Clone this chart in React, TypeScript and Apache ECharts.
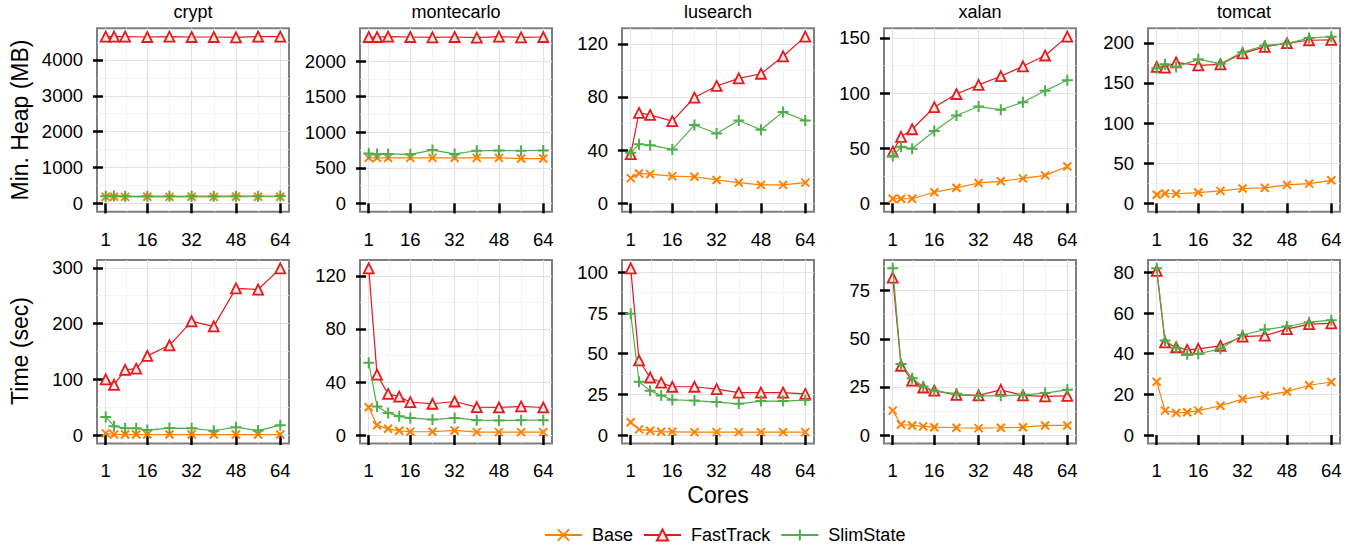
import React, { useEffect, useRef } from "react";
import * as echarts from "echarts";

const benchmarks = ["crypt", "montecarlo", "lusearch", "xalan", "tomcat"];
const methods = ["Base", "FastTrack", "SlimState"];
const coresHeap = [1, 4, 8, 16, 24, 32, 40, 48, 56, 64];
const coresTime = [1, 4, 8, 12, 16, 24, 32, 40, 48, 56, 64];
const xTicks = [1, 16, 32, 48, 64];

// Min. Heap (MB)
const cryptHeapBase = [180, 185, 180, 185, 180, 185, 180, 185, 185, 185];
const cryptHeapFastTrack = [4650, 4650, 4650, 4640, 4650, 4640, 4640, 4630, 4650, 4650];
const cryptHeapSlimState = [195, 205, 195, 200, 195, 200, 200, 200, 200, 205];
const montecarloHeapBase = [640, 640, 640, 640, 640, 640, 640, 640, 630, 630];
const montecarloHeapFastTrack = [2340, 2340, 2345, 2340, 2335, 2340, 2330, 2345, 2335, 2340];
const montecarloHeapSlimState = [700, 695, 695, 690, 750, 695, 740, 745, 740, 745];
const lusearchHeapBase = [19, 22.5, 22, 20.5, 20, 17.6, 15.6, 13.9, 13.9, 15.6];
const lusearchHeapFastTrack = [37, 68, 66.5, 61.8, 79.6, 88.3, 94, 97.5, 110.6, 125.4];
const lusearchHeapSlimState = [38, 44.5, 43.8, 40.6, 58.9, 52.5, 62.3, 55.4, 68.8, 62.3];
const xalanHeapBase = [4.2, 4.2, 4.2, 10.1, 14.1, 18.5, 20, 22.7, 25.4, 33.4];
const xalanHeapFastTrack = [46.9, 60.3, 67.2, 87.2, 99.2, 107.5, 115.3, 124.3, 134.1, 151.2];
const xalanHeapSlimState = [43, 51.3, 49.6, 65.7, 79.7, 87.8, 84.9, 91.7, 102.2, 111.7];
const tomcatHeapBase = [10.7, 12.3, 12, 13.5, 15.6, 18.5, 19.3, 23, 24.6, 28.7];
const tomcatHeapFastTrack = [170, 169, 175.7, 172, 173.2, 186.8, 195, 199.5, 203.2, 203.6];
const tomcatHeapSlimState = [168.3, 173.2, 170, 179.4, 174, 188.4, 196.6, 199, 206, 207.7];

// Time (sec)
const cryptTimeBase = [3, 1, 1, 1, 1, 1, 1, 1, 1, 1, 1];
const cryptTimeFastTrack = [100, 90, 117, 119, 142, 161, 204, 195, 263, 261, 299];
const cryptTimeSlimState = [32.6, 16, 12, 12, 9, 12.5, 12, 7.7, 14.2, 8, 17.8];
const montecarloTimeBase = [21, 7.4, 4.7, 3.2, 2.5, 2.5, 3.5, 2.2, 2.2, 2.2, 2.2];
const montecarloTimeFastTrack = [125.7, 45.6, 31, 29, 24.8, 23.6, 25.3, 21.1, 20.8, 21.6, 20.8];
const montecarloTimeSlimState = [54.6, 21.6, 16.7, 14.1, 12.9, 11.7, 12.9, 11.2, 11, 11.2, 11.2];
const lusearchTimeBase = [7.9, 3.5, 2.7, 2, 2, 1.8, 1.8, 1.8, 1.8, 1.8, 1.8];
const lusearchTimeFastTrack = [102.5, 45.9, 35.4, 32.2, 29.7, 29.7, 28.2, 26.1, 26.1, 26.1, 25.3];
const lusearchTimeSlimState = [74.6, 32.8, 27.3, 24.3, 21.7, 21.2, 20.3, 19.2, 20.9, 20.9, 21.5];
const xalanTimeBase = [12.7, 5.5, 5, 4.5, 4.1, 3.8, 3.6, 3.8, 4.1, 5, 5];
const xalanTimeFastTrack = [81.8, 36, 28.3, 24.7, 23.1, 20.9, 20.6, 23.5, 20.6, 20.1, 20.4];
const xalanTimeSlimState = [86.6, 36.9, 29.5, 25.2, 23, 21.4, 20.4, 20.4, 20.9, 21.8, 23.5];
const tomcatTimeBase = [26.2, 12, 10.9, 11.2, 12, 14.4, 17.7, 19.4, 21.4, 24.5, 26.1];
const tomcatTimeFastTrack = [80.8, 45.6, 43.2, 41.9, 42.4, 43.9, 48.4, 48.9, 52.1, 54.6, 54.9];
const tomcatTimeSlimState = [82, 46.5, 42.9, 39.7, 40, 42.4, 49.2, 51.9, 53.4, 55.5, 56.5];

const heapTicks = [
  [0, 1000, 2000, 3000, 4000],
  [0, 500, 1000, 1500, 2000],
  [0, 40, 80, 120],
  [0, 50, 100, 150],
  [0, 50, 100, 150, 200],
];
const timeTicks = [
  [0, 100, 200, 300],
  [0, 40, 80, 120],
  [0, 25, 50, 75, 100],
  [0, 25, 50, 75],
  [0, 20, 40, 60, 80],
];

const heapData = [
  [cryptHeapBase, cryptHeapFastTrack, cryptHeapSlimState],
  [montecarloHeapBase, montecarloHeapFastTrack, montecarloHeapSlimState],
  [lusearchHeapBase, lusearchHeapFastTrack, lusearchHeapSlimState],
  [xalanHeapBase, xalanHeapFastTrack, xalanHeapSlimState],
  [tomcatHeapBase, tomcatHeapFastTrack, tomcatHeapSlimState],
];
const timeData = [
  [cryptTimeBase, cryptTimeFastTrack, cryptTimeSlimState],
  [montecarloTimeBase, montecarloTimeFastTrack, montecarloTimeSlimState],
  [lusearchTimeBase, lusearchTimeFastTrack, lusearchTimeSlimState],
  [xalanTimeBase, xalanTimeFastTrack, xalanTimeSlimState],
  [tomcatTimeBase, tomcatTimeFastTrack, tomcatTimeSlimState],
];

const FONT = "'Liberation Sans', Arial, Helvetica, sans-serif";
const colors: Record<string, string> = { Base: "#FF7F00", FastTrack: "#E41A1C", SlimState: "#4DAF4A" };
const crossPath = "path://M0,0L10,10M10,0L0,10";
const plusPath = "path://M5,0L5,10M0,5L10,5";

function minorsOf(ticks: number[], lo: number, hi: number) {
  const step = ticks[1] - ticks[0];
  const out: number[] = [];
  for (let v = ticks[0] - step / 2; v <= ticks[ticks.length - 1] + step / 2 + 1e-9; v += step) {
    if (v > lo && v < hi) out.push(v);
  }
  return out;
}
function xMinorsOf(ticks: number[]) {
  const out: number[] = [];
  for (let i = 0; i < ticks.length - 1; i++) out.push((ticks[i] + ticks[i + 1]) / 2);
  return out;
}

function textStyle(text: string, size: number) {
  return {
    text, fill: "#000", fontSize: size, fontFamily: FONT, fontWeight: "normal",
    textAlign: "center", textVerticalAlign: "middle", align: "center", verticalAlign: "middle",
  };
}

function buildOption() {
  const lefts = [97, 360, 622, 884, 1148];
  const panelW = 192;
  const panelH = 183.4;
  const rows = [
    { cores: coresHeap, data: heapData, ticks: heapTicks, top: 28.3 },
    { cores: coresTime, data: timeData, ticks: timeTicks, top: 260 },
  ];
  const xMin = 1 - 0.05 * 63;
  const xMax = 64 + 0.05 * 63;
  const grid: any[] = [];
  const xAxis: any[] = [];
  const yAxis: any[] = [];
  const series: any[] = [];
  const graphic: any[] = [];

  rows.forEach((row, r) => {
    benchmarks.forEach((b, c) => {
      const gi = r * 5 + c;
      grid.push({
        left: lefts[c], top: row.top, width: panelW, height: panelH,
        show: true, borderColor: "#7f7f7f", borderWidth: 2, backgroundColor: "#ffffff",
        containLabel: false, outerBoundsMode: "none",
      });
      xAxis.push({
        type: "value", gridIndex: gi, min: xMin, max: xMax, position: "bottom",
        axisLine: { show: false },
        axisTick: { show: true, customValues: xTicks, length: 10, lineStyle: { color: "#000", width: 2.5 } },
        axisLabel: {
          show: true, customValues: xTicks, margin: 18, color: "#000", fontSize: 18.5, fontFamily: FONT,
          formatter: (v: number) => String(v),
        },
        splitLine: { show: true, lineStyle: { color: "#e3e3e3", width: 1.2 } },
      });
      xAxis.push({
        type: "value", gridIndex: gi, min: xMin, max: xMax, position: "top",
        axisLine: { show: false },
        axisTick: { show: false, customValues: xMinorsOf(xTicks) },
        axisLabel: { show: false, customValues: xMinorsOf(xTicks) },
        splitLine: { show: true, lineStyle: { color: "#f2f2f2", width: 0.8 } },
      });
      const vals = row.data[c];
      const M = Math.max(...vals.flat());
      const yMin = -0.05 * M;
      const yMax = 1.05 * M;
      const ticks = row.ticks[c];
      yAxis.push({
        type: "value", gridIndex: gi, min: yMin, max: yMax, position: "left",
        axisLine: { show: false },
        axisTick: { show: true, customValues: ticks, length: 10, lineStyle: { color: "#000", width: 2.5 } },
        axisLabel: {
          show: true, customValues: ticks, margin: 14, color: "#000", fontSize: 18.5, fontFamily: FONT,
          formatter: (v: number) => String(v),
        },
        splitLine: { show: true, lineStyle: { color: "#e3e3e3", width: 1.2 } },
      });
      const ym = minorsOf(ticks, yMin, yMax);
      yAxis.push({
        type: "value", gridIndex: gi, min: yMin, max: yMax, position: "right",
        axisLine: { show: false },
        axisTick: { show: false, customValues: ym },
        axisLabel: { show: false, customValues: ym },
        splitLine: { show: true, lineStyle: { color: "#f2f2f2", width: 0.8 } },
      });

      methods.forEach((m, k) => {
        const col = colors[m];
        const isTri = m === "FastTrack";
        series.push({
          type: "line", name: m, xAxisIndex: 2 * gi, yAxisIndex: 2 * gi,
          data: row.cores.map((x, i) => [x, vals[k][i]]),
          symbol: m === "Base" ? crossPath : isTri ? "triangle" : plusPath,
          symbolSize: m === "Base" ? 8 : isTri ? 10 : 11,
          showSymbol: true,
          lineStyle: { color: col, width: 1.2 },
          itemStyle: { color: isTri ? "#fde8e8" : col, borderColor: col, borderWidth: isTri ? 1.8 : 2 },
          emphasis: { disabled: true },
          z: 3 + k,
          silent: true,
        });
      });

      if (r === 0) {
        graphic.push({ type: "text", x: lefts[c] + panelW / 2, y: 12, style: textStyle(b, 18) });
      }
    });
  });

  graphic.push({ type: "text", x: 20, y: 120, rotation: Math.PI / 2, style: textStyle("Min. Heap (MB)", 23) });
  graphic.push({ type: "text", x: 20, y: 351, rotation: Math.PI / 2, style: textStyle("Time (sec)", 23) });
  graphic.push({ type: "text", x: 718, y: 495, style: textStyle("Cores", 23) });

  return {
    animation: false,
    backgroundColor: "#ffffff",
    grid, xAxis, yAxis, series, graphic,
    legend: {
      data: methods, left: 539, top: 521, itemWidth: 37, itemHeight: 14, itemGap: 10,
      selectedMode: false,
      textStyle: { fontSize: 18, fontFamily: FONT, color: "#000", padding: [0, 0, 0, 5] },
    },
  };
}

export default function App() {
  const ref = useRef<HTMLDivElement>(null);
  useEffect(() => {
    if (!ref.current) return;
    const chart = echarts.init(ref.current, null, { renderer: "svg" });
    chart.setOption(buildOption() as any);
    return () => chart.dispose();
  }, []);
  return (
    <div
      ref={ref}
      style={{ position: "fixed", left: 0, top: 0, width: 1358, height: 548, background: "#fff" }}
    />
  );
}
